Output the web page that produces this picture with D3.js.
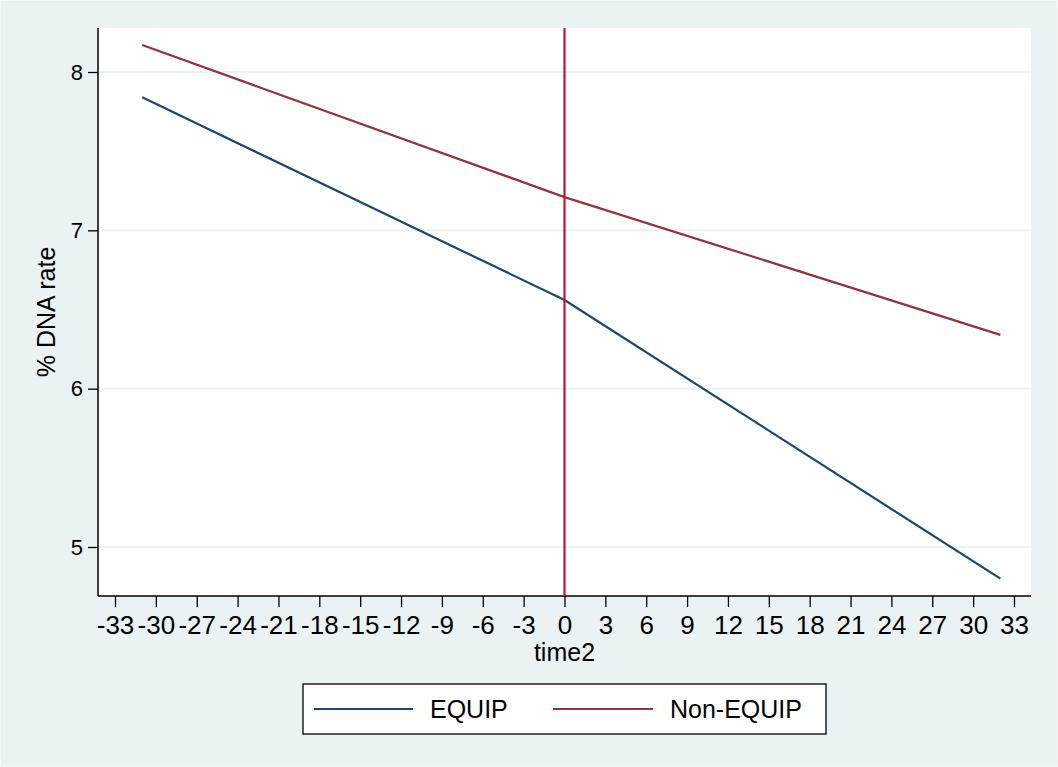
<!DOCTYPE html>
<html>
<head>
<meta charset="utf-8">
<script src="https://cdn.jsdelivr.net/npm/d3@7"></script>
<style>
  html, body { margin: 0; padding: 0; background: #eaf2f3; }
  svg { display: block; }
  text { font-family: "Liberation Sans", Arial, sans-serif; fill: #000; }
</style>
</head>
<body>
<svg id="chart" width="1058" height="767"></svg>
<script>
// Time points (months relative to intervention) and predicted DNA rates
const timePoints = [-31, 0, 32];
const equipValues = [7.84, 6.56, 4.80];
const nonEquipValues = [8.17, 7.21, 6.34];
const seriesNames = ["EQUIP", "Non-EQUIP"];
const xTicks = d3.range(-33, 34, 3);
const yTicks = [5, 6, 7, 8];
const interventionTime = 0;

const W = 1058, H = 767;
const plot = { left: 98, right: 1031, top: 28, bottom: 596 };
const FONT = "Liberation Sans, Arial, sans-serif";

const svg = d3.select("#chart");

// graph background with thin light outline
svg.append("rect").attr("x", 0.5).attr("y", 0.5).attr("width", W - 1).attr("height", H - 1)
  .attr("fill", "#eaf2f3").attr("stroke", "#f6fafa").attr("stroke-width", 1);

// plot region
svg.append("rect").attr("x", plot.left).attr("y", plot.top)
  .attr("width", plot.right - plot.left).attr("height", plot.bottom - plot.top)
  .attr("fill", "#ffffff");

const x = d3.scaleLinear().domain([-33, 33]).range([115, 1014]);
const y = d3.scaleLinear().domain([5, 8]).range([547, 72]);

// horizontal gridlines
svg.append("g").selectAll("line").data(yTicks).join("line")
  .attr("x1", plot.left).attr("x2", plot.right)
  .attr("y1", d => y(d)).attr("y2", d => y(d))
  .attr("stroke", "#eaf2f3").attr("stroke-width", 2);

// y axis
const yAxis = svg.append("g").attr("transform", `translate(${plot.left},0)`)
  .call(d3.axisLeft(y).tickValues(yTicks).tickSize(10).tickPadding(5).tickFormat(d3.format("d")));
yAxis.select(".domain").attr("d", `M0,${plot.top}V${plot.bottom}`).attr("stroke", "#000").attr("stroke-width", 1.5);
yAxis.selectAll(".tick line").attr("stroke", "#000").attr("stroke-width", 1.3);
yAxis.selectAll(".tick text").style("font-size", "22px").style("font-family", FONT).attr("fill", "#000");

// x axis
const xAxis = svg.append("g").attr("transform", `translate(0,${plot.bottom})`)
  .call(d3.axisBottom(x).tickValues(xTicks).tickSize(11).tickPadding(9).tickFormat(d3.format("d")));
xAxis.select(".domain").attr("d", `M${plot.left},0H${plot.right}`).attr("stroke", "#000").attr("stroke-width", 1.5);
xAxis.selectAll(".tick line").attr("stroke", "#000").attr("stroke-width", 1.3);
xAxis.selectAll(".tick text").style("font-size", "26px").style("font-family", FONT).attr("fill", "#000")
  .text(d => d < 0 ? "-" + Math.abs(d) : String(d));

// axis titles
svg.append("text").attr("x", x(0)).attr("y", 661).attr("text-anchor", "middle")
  .style("font-size", "25px").text("time2");
svg.append("text").attr("transform", `translate(55,${(plot.top + plot.bottom) / 2}) rotate(-90)`)
  .attr("text-anchor", "middle").style("font-size", "25px").text("% DNA rate");

// series lines
const colors = ["#1a476f", "#90353b"];
const series = [equipValues, nonEquipValues];
const line = d3.line().x((d, i) => x(timePoints[i])).y(d => y(d));
series.forEach((vals, k) => {
  svg.append("path").datum(vals).attr("d", line)
    .attr("fill", "none").attr("stroke", colors[k]).attr("stroke-width", 2.2);
});

// intervention reference line
svg.append("line").attr("x1", x(interventionTime)).attr("x2", x(interventionTime))
  .attr("y1", plot.top).attr("y2", plot.bottom)
  .attr("stroke", "#c8102e").attr("stroke-width", 2.2);

// legend
const lg = svg.append("g");
lg.append("rect").attr("x", 303).attr("y", 684).attr("width", 523).attr("height", 50)
  .attr("fill", "#fff").attr("stroke", "#000").attr("stroke-width", 1.3);
const legendItems = [
  { name: seriesNames[0], color: colors[0], x0: 314, x1: 413, tx: 430 },
  { name: seriesNames[1], color: colors[1], x0: 553, x1: 653, tx: 670 }
];
legendItems.forEach(it => {
  lg.append("line").attr("x1", it.x0).attr("x2", it.x1).attr("y1", 709).attr("y2", 709)
    .attr("stroke", it.color).attr("stroke-width", 2.2);
  lg.append("text").attr("x", it.tx).attr("y", 718).style("font-size", "25px").text(it.name);
});
</script>
</body>
</html>
